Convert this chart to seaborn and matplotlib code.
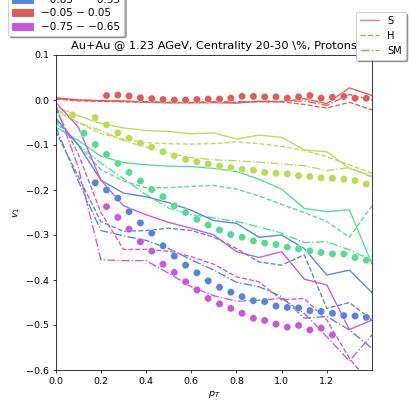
import matplotlib
matplotlib.use("Agg")
import matplotlib.pyplot as plt
import pandas as pd
import seaborn as sns
from matplotlib.patches import Patch
from matplotlib.lines import Line2D

# ---------------- data ----------------
bins = ["\u22120.05 \u2212 0.05", "\u22120.25 \u2212 \u22120.15", "\u22120.45 \u2212 \u22120.35",
        "\u22120.65 \u2212 \u22120.55", "\u22120.75 \u2212 \u22120.65"]
models = ["S", "H", "SM"]

model_pt = [0.0, 0.1, 0.2, 0.3, 0.4, 0.5, 0.6, 0.7, 0.8, 0.9, 1.0, 1.1, 1.2, 1.3, 1.4]

red_S = [0.005, 0.0, -0.002, -0.002, -0.005, -0.006, -0.006, -0.006, -0.007, -0.003, -0.004, 0.003, -0.008, 0.027, 0.010]
red_H = [0.002, -0.002, -0.003, -0.004, -0.005, -0.006, -0.006, -0.005, -0.005, -0.004, -0.004, -0.010, -0.018, -0.005, -0.022]
red_SM = [0.003, 0.0, -0.001, -0.003, -0.004, -0.005, -0.005, -0.004, -0.004, -0.003, -0.003, -0.002, -0.012, 0.012, 0.0]

yel_S = [-0.015, -0.035, -0.052, -0.062, -0.068, -0.070, -0.075, -0.073, -0.087, -0.078, -0.083, -0.111, -0.115, -0.152, -0.169]
yel_H = [-0.025, -0.050, -0.075, -0.087, -0.095, -0.097, -0.098, -0.097, -0.093, -0.097, -0.103, -0.112, -0.126, -0.144, -0.163]
yel_SM = [-0.020, -0.050, -0.068, -0.090, -0.105, -0.118, -0.128, -0.133, -0.135, -0.138, -0.142, -0.146, -0.157, -0.150, -0.172]

grn_S = [-0.060, -0.090, -0.125, -0.139, -0.144, -0.147, -0.148, -0.152, -0.159, -0.176, -0.198, -0.241, -0.248, -0.244, -0.365]
grn_H = [-0.045, -0.100, -0.155, -0.180, -0.195, -0.195, -0.192, -0.190, -0.198, -0.213, -0.232, -0.250, -0.270, -0.305, -0.235]
grn_SM = [-0.050, -0.100, -0.140, -0.175, -0.210, -0.240, -0.255, -0.262, -0.270, -0.282, -0.296, -0.317, -0.315, -0.333, -0.356]

blu_S = [-0.040, -0.100, -0.178, -0.207, -0.215, -0.228, -0.245, -0.268, -0.274, -0.305, -0.300, -0.330, -0.389, -0.378, -0.428]
blu_H = [-0.070, -0.170, -0.270, -0.292, -0.290, -0.285, -0.290, -0.305, -0.330, -0.360, -0.367, -0.344, -0.463, -0.450, -0.489]
blu_SM = [-0.060, -0.180, -0.290, -0.302, -0.312, -0.330, -0.355, -0.378, -0.405, -0.415, -0.437, -0.485, -0.481, -0.511, -0.552]

pur_S = [-0.005, -0.060, -0.178, -0.235, -0.255, -0.272, -0.285, -0.300, -0.337, -0.350, -0.337, -0.398, -0.411, -0.510, -0.489]
pur_H = [-0.020, -0.120, -0.250, -0.332, -0.332, -0.336, -0.348, -0.365, -0.393, -0.404, -0.444, -0.441, -0.489, -0.574, -0.635]
pur_SM = [-0.010, -0.150, -0.355, -0.357, -0.357, -0.385, -0.415, -0.435, -0.447, -0.445, -0.441, -0.474, -0.526, -0.580, -0.522]

red_pt = [0.225, 0.275, 0.325, 0.375, 0.425, 0.475, 0.525, 0.575, 0.625, 0.675, 0.725, 0.775,
          0.825, 0.875, 0.925, 0.975, 1.025, 1.075, 1.125, 1.175, 1.225, 1.275, 1.325, 1.375]
red_v1 = [0.010, 0.011, 0.009, 0.005, 0.003, 0.001, 0.000, 0.000, 0.001, 0.002, 0.002, 0.004,
          0.008, 0.008, 0.007, 0.007, 0.004, 0.007, 0.010, 0.004, 0.006, 0.008, 0.004, 0.004]

yel_pt = [0.075, 0.175, 0.225, 0.275, 0.325, 0.375, 0.425, 0.475, 0.525, 0.575, 0.625, 0.675, 0.725,
          0.775, 0.825, 0.875, 0.925, 0.975, 1.025, 1.075, 1.125, 1.175, 1.225, 1.275, 1.325, 1.375]
yel_v1 = [-0.033, -0.039, -0.055, -0.073, -0.085, -0.096, -0.105, -0.115, -0.124, -0.132, -0.137, -0.142,
          -0.147, -0.150, -0.154, -0.156, -0.161, -0.163, -0.164, -0.168, -0.170, -0.173, -0.174, -0.176,
          -0.179, -0.187]

grn_pt = [0.125, 0.175, 0.225, 0.275, 0.325, 0.375, 0.425, 0.475, 0.525, 0.575, 0.625, 0.675, 0.725,
          0.775, 0.825, 0.875, 0.925, 0.975, 1.025, 1.075, 1.125, 1.175, 1.225, 1.275, 1.325, 1.375]
grn_v1 = [-0.074, -0.099, -0.121, -0.141, -0.161, -0.180, -0.199, -0.215, -0.235, -0.250, -0.265, -0.278,
          -0.289, -0.299, -0.305, -0.313, -0.318, -0.321, -0.327, -0.331, -0.335, -0.339, -0.342, -0.342,
          -0.350, -0.356]

blu_pt = [0.175, 0.225, 0.275, 0.325, 0.375, 0.425, 0.475, 0.525, 0.575, 0.625, 0.675, 0.725,
          0.775, 0.825, 0.875, 0.925, 0.975, 1.025, 1.075, 1.125, 1.175, 1.225, 1.275, 1.325, 1.375]
blu_v1 = [-0.184, -0.200, -0.218, -0.248, -0.273, -0.296, -0.324, -0.347, -0.367, -0.384, -0.402, -0.416,
          -0.427, -0.437, -0.446, -0.448, -0.458, -0.461, -0.462, -0.468, -0.470, -0.474, -0.479, -0.480,
          -0.483]

pur_pt = [0.225, 0.275, 0.325, 0.375, 0.425, 0.475, 0.525, 0.575, 0.625, 0.675, 0.725,
          0.775, 0.825, 0.875, 0.925, 0.975, 1.025, 1.075, 1.125, 1.175, 1.225]
pur_v1 = [-0.237, -0.261, -0.287, -0.315, -0.336, -0.365, -0.383, -0.404, -0.422, -0.441, -0.453,
          -0.463, -0.474, -0.485, -0.490, -0.498, -0.505, -0.501, -0.511, -0.507, -0.522]

# ---------------- tables ----------------
model_series = {
    bins[0]: (red_S, red_H, red_SM),
    bins[1]: (yel_S, yel_H, yel_SM),
    bins[2]: (grn_S, grn_H, grn_SM),
    bins[3]: (blu_S, blu_H, blu_SM),
    bins[4]: (pur_S, pur_H, pur_SM),
}
rows = []
for b, series in model_series.items():
    for m, vals in zip(models, series):
        for x, y in zip(model_pt, vals):
            rows.append({"bin": b, "model": m, "pt": x, "v1": y})
lines_df = pd.DataFrame(rows)

data_series = {
    bins[0]: (red_pt, red_v1),
    bins[1]: (yel_pt, yel_v1),
    bins[2]: (grn_pt, grn_v1),
    bins[3]: (blu_pt, blu_v1),
    bins[4]: (pur_pt, pur_v1),
}
rows = []
for b, (xs, ys) in data_series.items():
    for x, y in zip(xs, ys):
        rows.append({"bin": b, "pt": x, "v1": y})
dots_df = pd.DataFrame(rows)

# ---------------- plot ----------------
colors = sns.color_palette("hls", 5)
palette = dict(zip(bins, colors))
dpi = 68
fig = plt.figure(figsize=(409 / dpi, 400 / dpi), dpi=dpi)
ax = fig.add_axes([55.7 / 409, 30 / 400, (372 - 55.7) / 409, 315 / 400])

sns.lineplot(data=lines_df, x="pt", y="v1", hue="bin", style="model", palette=palette,
             dashes={"S": "", "H": (3.7, 1.6), "SM": (6.4, 1.6, 1.0, 1.6)},
             estimator=None, sort=False, legend=False, ax=ax, linewidth=1.4)
sns.scatterplot(data=dots_df, x="pt", y="v1", hue="bin", palette=palette, s=60,
                edgecolor="white", linewidth=0.4, legend=False, ax=ax, zorder=3)

ax.set_xlim(0, 1.4)
ax.set_ylim(-0.6, 0.1)
ax.set_xticks([0.0, 0.2, 0.4, 0.6, 0.8, 1.0, 1.2])
ax.set_yticks([0.1, 0.0, -0.1, -0.2, -0.3, -0.4, -0.5, -0.6])
ax.set_xlabel("$p_T$")
ax.set_ylabel("$v_1$")
ax.set_title("Au+Au @ 1.23 AGeV, Centrality 20-30 \\%, Protons", fontsize=12)

order = [1, 2, 3, 0, 4]
h1 = [Patch(color=colors[i]) for i in order]
l1 = [bins[i] for i in order]
fig.legend(h1, l1, loc="lower left", bbox_to_anchor=(8 / 409, 1 - 36 / 400),
           borderaxespad=0, fontsize=11, labelspacing=0.35, shadow=True)

h2 = [Line2D([], [], color=colors[0], ls="-", alpha=0.8),
      Line2D([], [], color=colors[0], ls="--", alpha=0.8),
      Line2D([], [], color=colors[0], ls="-.", alpha=0.8)]
fig.legend(h2, models, loc="upper right", bbox_to_anchor=(406 / 409, 1 - 12 / 400),
           borderaxespad=0, fontsize=10.5, shadow=True)

fig.savefig("out.png", dpi=dpi)
